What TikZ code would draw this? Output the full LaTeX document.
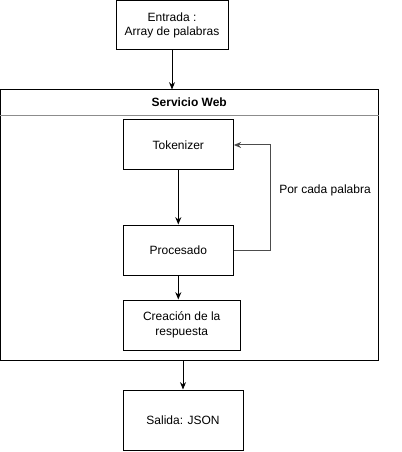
\documentclass[tikz,border=0pt]{standalone}
\usepackage{fontspec}
\setmainfont{Liberation Sans}
\usetikzlibrary{arrows.meta,calc}
\begin{document}
\begin{tikzpicture}[x=0.75pt,y=-0.75pt,
  font=\fontsize{9}{11}\selectfont,
  box/.style={draw,line width=0.75pt,align=center,inner sep=0pt},
  arr/.style={-{Stealth[length=5.5pt,width=4.5pt]},line width=0.75pt}]
\useasboundingbox (0,0) rectangle (402,452);
\node[box,minimum width=377.5*0.75pt,minimum height=270*0.75pt] (cont) at (189.25,225) {};
\node[font=\fontsize{9}{11}\selectfont\bfseries] (hdr) at (189.25,102.5) {Servicio Web};
\draw[black!45,line width=0.75pt] (cont.west |- 0,115.7) coordinate (h1) -- (cont.east |- 0,115.7) coordinate (h2);
\node[box,minimum width=112*0.75pt,minimum height=49.5*0.75pt] (ent) at (172,25.25) {Entrada :\\Array de palabras};
\node[box,minimum width=110*0.75pt,minimum height=50*0.75pt] (tok) at (178.3,145) {Tokenizer};
\node[box,minimum width=110*0.75pt,minimum height=50*0.75pt] (proc) at (178.3,250) {Procesado};
\node[box,minimum width=117*0.75pt,minimum height=50*0.75pt] (crea) at (181.7,325) {Creación de la\\respuesta};
\node[box,minimum width=120*0.75pt,minimum height=60*0.75pt] (sal) at (183,420) {Salida: JSON};
\node (lbl) at (325,190.5) {Por cada palabra};
\draw[arr] (ent.south) -- (ent.south |- cont.north);
\draw[arr] (tok.south) -- (proc.north);
\draw[arr] (proc.south) -- (proc.south |- crea.north);
\draw[arr] (sal.north |- cont.south) -- (sal.north);
\draw[arr,black!70] (proc.east) -- ++(37,0) coordinate (lp) |- (tok.east);
\end{tikzpicture}
\end{document}
